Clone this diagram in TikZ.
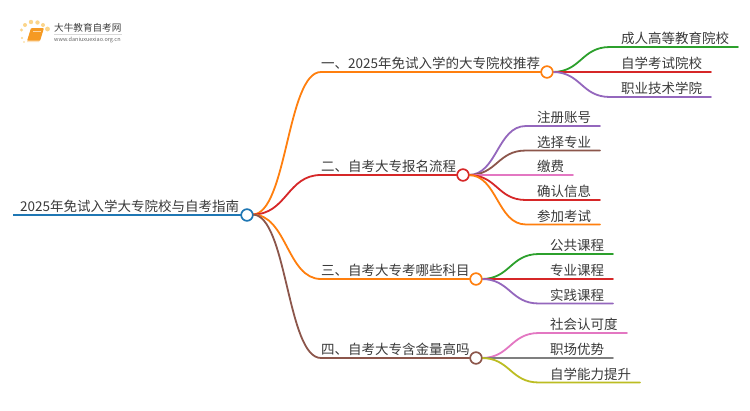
\documentclass[tikz,border=0pt]{standalone}
\usepackage{fontspec}
\setmainfont{Noto Sans CJK SC}
\definecolor{cblue}{HTML}{1F77B4}
\definecolor{corange}{HTML}{FF7F0E}
\definecolor{cred}{HTML}{D62728}
\definecolor{cgreen}{HTML}{2CA02C}
\definecolor{cpurple}{HTML}{9467BD}
\definecolor{cbrown}{HTML}{8C564B}
\definecolor{cpink}{HTML}{E377C2}
\definecolor{cgray}{HTML}{7F7F7F}
\definecolor{colive}{HTML}{BCBD22}
\definecolor{txt}{HTML}{3A3A3A}
\definecolor{dot}{HTML}{FBD58A}
\definecolor{bookc}{HTML}{F59A23}
\tikzset{
  lbl/.style={anchor=base west,inner sep=0pt,text=txt,font=\fontsize{13.5pt}{14pt}\selectfont},
  hub/.style={circle,draw=#1,fill=white,line width=1.5pt,minimum size=11.5pt,inner sep=0pt},
  wire/.style={draw=#1,line width=1.8pt,line cap=round},
}
\usetikzlibrary{calc}
\newcommand{\leafline}[8]{%
  \coordinate (#2a) at (#4,#5);
  \coordinate (#2b) at (#6,#5);
  \node[lbl] (#2) at (#7,#5-3.5) {#8};
  \path let \p1=(#1.east) in coordinate (#2s) at (\x1-1pt,\y1);
  \draw[wire=#3] (#2s) .. controls ($(#2s)!0.5!(#2a|-#2s)$) and ($(#2a)!0.5!(#2s|-#2a)$) .. (#2a) -- (#2b);
}
\begin{document}
\begin{tikzpicture}[x=1pt,y=-1pt]
\useasboundingbox (0,0) rectangle (750,410);
\fill[white] (0,0) rectangle (750,410);
% logo
\foreach \a/\b/\r in {22/38/1.2,21.5/30/1.6,25/25/2,31/22/2.2,37.5/22.5/2.2,43/25/2,47.5/29/2.4,24/42/0.9}
  \fill[dot] (\a,\b) circle (\r);
\fill[bookc,rounded corners=1pt] (31,28) -- (44,28) -- (40,41) -- (27,41) -- cycle;
\fill[white!70!bookc] (27.5,40.5) -- (39.5,40.5) -- (39,42) -- (27,42) -- cycle;
\draw[white!60!bookc,line width=0.5pt] (33,31) -- (41,31);
\node[anchor=base west,inner sep=0pt,text=black!75,font=\fontsize{9.6pt}{10pt}\selectfont] (logotitle) at (54,31) {大牛教育自考网};
\fill[black!15] (54,33.5) rectangle (122,34);
\node[anchor=base west,inner sep=0pt,text=black!60,font=\fontsize{5.5pt}{6pt}\selectfont] (logourl) at (54,41) {www.daniuxuexiao.org.cn};
% hubs
\node[hub=cblue] (root) at (247,215) {};
\node[hub=corange] (h1) at (547,72) {};
\node[hub=cred] (h2) at (463,175) {};
\node[hub=corange] (h3) at (476,279) {};
\node[hub=cbrown] (h4) at (476,358) {};
% root label
\coordinate (r0) at (13,215);
\draw[wire=cblue,line width=2.4pt,line cap=butt] (r0) -- (root.west);
\node[lbl] (rl) at (20,211.5) {2025年免试入学大专院校与自考指南};
% branches
\coordinate (rs) at (252.5,214.5);
\foreach \n/\c/\x/\y/\t in {h1/corange/321/72/{一、2025年免试入学的大专院校推荐},
                            h2/cred/321/175/{二、自考大专报名流程},
                            h3/corange/321/279/{三、自考大专考哪些科目},
                            h4/cbrown/321/358/{四、自考大专含金量高吗}}{
  \coordinate (\n a) at (\x,\y);
  \draw[wire=\c] (rs) .. controls (287,214.5) and (287,\y) .. (\n a) -- (\n.west);
  \node[lbl] at (\x,\y-3.5) {\t};
}
% leaves
\leafline{h1}{a1}{cgreen}{610}{47}{738}{621}{成人高等教育院校}
\leafline{h1}{a2}{cred}{610}{72}{711}{621}{自学考试院校}
\leafline{h1}{a3}{cpurple}{610}{97}{711}{621}{职业技术学院}
\leafline{h2}{b1}{cpurple}{526}{126}{600}{537}{注册账号}
\leafline{h2}{b2}{cbrown}{526}{150.5}{600}{537}{选择专业}
\leafline{h2}{b3}{cpink}{526}{175}{573}{537}{缴费}
\leafline{h2}{b4}{cred}{526}{200}{600}{537}{确认信息}
\leafline{h2}{b5}{corange}{526}{224.5}{600}{537}{参加考试}
\leafline{h3}{c1}{cgreen}{539}{254}{613}{550}{公共课程}
\leafline{h3}{c2}{cred}{539}{279}{613}{550}{专业课程}
\leafline{h3}{c3}{cpurple}{539}{303.5}{613}{550}{实践课程}
\leafline{h4}{d1}{cpink}{539}{333}{627}{550}{社会认可度}
\leafline{h4}{d2}{cgray}{539}{358}{613}{550}{职场优势}
\leafline{h4}{d3}{colive}{539}{382.5}{640}{550}{自学能力提升}
% hubs above wires
\node[hub=cblue] at (root) {};
\node[hub=corange] at (h1) {};
\node[hub=cred] at (h2) {};
\node[hub=corange] at (h3) {};
\node[hub=cbrown] at (h4) {};
\end{tikzpicture}
\end{document}
